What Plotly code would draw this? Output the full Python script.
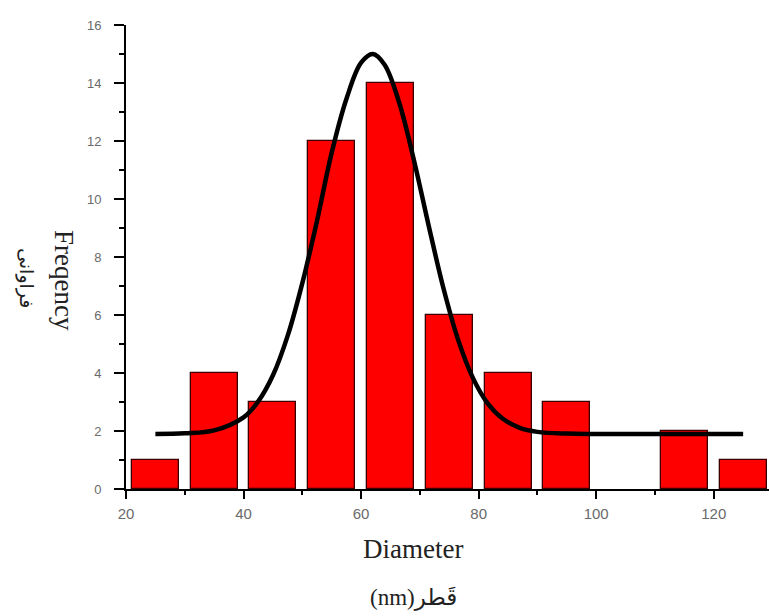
import plotly.graph_objects as go

# Histogram bins (centres, nm) and counts
bin_centers = [25, 35, 45, 55, 65, 75, 85, 95, 105, 115, 125]
counts = [1, 4, 3, 12, 14, 6, 4, 3, 0, 2, 1]

# Fitted curve, points
fit_x = [25, 30, 35, 40, 42.5, 45, 47.5, 50, 52.5, 55, 57.5, 60, 62, 64, 66.5,
         69, 71.5, 74, 76.5, 79, 81.5, 84, 87, 90, 95, 100, 110, 125]
fit_y = [1.90, 1.92, 2.02, 2.47, 3.02, 3.92, 5.28, 7.10, 9.25, 11.6, 13.45, 14.7,
         15.0, 14.63, 13.31, 11.33, 9.08, 6.93, 5.15, 3.84, 2.96, 2.44, 2.11,
         1.97, 1.91, 1.90, 1.90, 1.90]

x_ticks = [20, 40, 60, 80, 100, 120]
y_ticks = [0, 2, 4, 6, 8, 10, 12, 14, 16]

W, H = 769, 616
L, R, T, B = 126, 0, 25, 127
pw, ph = W - L - R, H - T - B


def px(xp):
    return (xp - L) / pw


def py(yp):
    return (H - B - yp) / ph


fig = go.Figure()
fig.add_trace(go.Bar(
    x=bin_centers, y=counts, width=8,
    marker=dict(color="#ff0000",
                line=dict(color="#3a0000",
                          width=[1.3 if c > 0 else 0 for c in counts])),
    showlegend=False,
))
fig.add_trace(go.Scatter(
    x=fit_x, y=fit_y, mode="lines",
    line=dict(color="black", width=4.5, shape="spline", smoothing=1.0),
    showlegend=False,
))

tick_font_x = dict(family="Liberation Sans, Arial, sans-serif", size=15, color="#6a6a6a")
tick_font_y = dict(family="Liberation Sans, Arial, sans-serif", size=13, color="#6a6a6a")

fig.update_layout(
    width=W, height=H,
    margin=dict(l=L, r=R, t=T, b=B, autoexpand=False),
    paper_bgcolor="white", plot_bgcolor="white",
    bargap=0,
    xaxis=dict(
        range=[20, 129.4], tickmode="array", tickvals=x_ticks,
        ticktext=[str(v) for v in x_ticks],
        showline=True, linecolor="black", linewidth=2,
        ticks="outside", ticklen=8, tickwidth=1.5, tickcolor="black",
        minor=dict(dtick=10, tick0=20, ticks="outside", ticklen=4, tickcolor="black"),
        showgrid=False, zeroline=False, tickfont=tick_font_x, automargin=False,
        ticklabelstandoff=2,
    ),
    yaxis=dict(
        range=[0, 16], tickmode="array", tickvals=y_ticks,
        ticktext=[str(v) for v in y_ticks],
        showline=True, linecolor="black", linewidth=2,
        ticks="outside", ticklen=10, tickwidth=1.5, tickcolor="black",
        minor=dict(dtick=1, tick0=0, ticks="outside", ticklen=5, tickcolor="black"),
        showgrid=False, zeroline=False, tickfont=tick_font_y, automargin=False,
        ticklabelstandoff=10,
    ),
)

serif = "Liberation Serif, Times New Roman, DejaVu Sans, serif"
fig.add_annotation(x=px(413), y=py(549), xref="paper", yref="paper",
                   text="Diameter", showarrow=False,
                   font=dict(family=serif, size=27, color="#222"),
                   xanchor="center", yanchor="middle")
fig.add_annotation(x=px(413), y=py(598), xref="paper", yref="paper",
                   text="(nm)قَطر", showarrow=False,
                   font=dict(family=serif, size=23, color="#222"),
                   xanchor="center", yanchor="middle")
fig.add_annotation(x=px(64), y=py(280), xref="paper", yref="paper",
                   text="Freqency", showarrow=False, textangle=90,
                   font=dict(family=serif, size=27, color="#222"),
                   xanchor="center", yanchor="middle")
fig.add_annotation(x=px(27), y=py(278), xref="paper", yref="paper",
                   text="فراوانی", showarrow=False, textangle=90,
                   font=dict(family="DejaVu Sans, sans-serif", size=19, color="#222"),
                   xanchor="center", yanchor="middle")

fig.write_html("out.html")
